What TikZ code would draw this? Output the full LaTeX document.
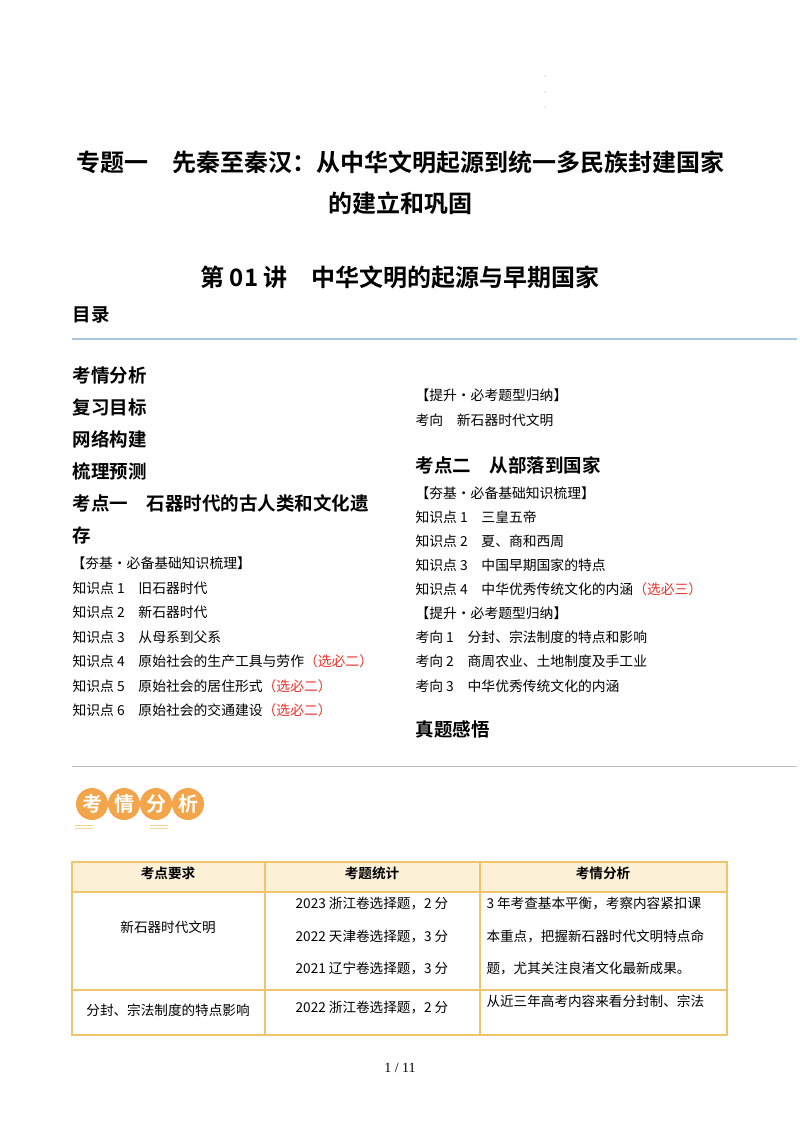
\documentclass[tikz,border=0pt]{standalone}
\usepackage{fontspec}
\setmainfont{Liberation Serif}
\newfontfamily\cjk{Noto Sans CJK SC}
\newfontfamily\cjkb{Noto Sans CJK SC Bold}
\definecolor{gold}{HTML}{EFC46A}
\definecolor{beige}{HTML}{FCF0D6}
\definecolor{orng}{HTML}{F2A54A}
\definecolor{redt}{HTML}{E8322B}
\definecolor{lblue}{HTML}{A9C6E3}
\begin{document}
\begin{tikzpicture}[x=1pt,y=-1pt,
  ttl/.style={font=\cjkb\fontsize{24}{26}\selectfont},
  sec/.style={anchor=west,font=\cjkb\fontsize{18.5}{20}\selectfont},
  itm/.style={anchor=west,font=\cjk\fontsize{13.8}{15}\selectfont},
  cell/.style={font=\cjk\fontsize{13.6}{15}\selectfont},
  hcell/.style={font=\cjkb\fontsize{13.6}{15}\selectfont},
  badge/.style={circle,fill=orng,minimum size=32pt,inner sep=0pt,text=white,font=\cjkb\fontsize{20}{20}\selectfont}]
\useasboundingbox (0,0) rectangle (800,1132);
\fill[gray!60] (545,76) circle (0.6) (545,92) circle (0.6) (545,107) circle (0.6);
\node[ttl] (t1) at (400,162) {专题一\quad 先秦至秦汉：从中华文明起源到统一多民族封建国家};
\node[ttl] (t2) at (400,203) {的建立和巩固};
\node[ttl] (t3) at (400,277) {第 01 讲\quad 中华文明的起源与早期国家};
\node[sec] (ml) at (69,315) {目录};
\draw[lblue,line width=1.2pt] (72,339) -- (797,339);
\node[sec] (l1) at (69,375) {考情分析};
\node[sec] (l2) at (69,407) {复习目标};
\node[sec] (l3) at (69,439) {网络构建};
\node[sec] (l4) at (69,471) {梳理预测};
\node[sec] (l5) at (69,503) {考点一\quad 石器时代的古人类和文化遗};
\node[sec] (l6) at (69,535) {存};
\node[itm] (l7) at (68,563) {【夯基·必备基础知识梳理】};
\node[itm] (k1) at (69,588) {知识点 1\quad 旧石器时代};
\node[itm] (k2) at (69,612) {知识点 2\quad 新石器时代};
\node[itm] (k3) at (69,637) {知识点 3\quad 从母系到父系};
\node[itm] (k4) at (69,661) {知识点 4\quad 原始社会的生产工具与劳作\textcolor{redt}{（选必二）}};
\node[itm] (k5) at (69,686) {知识点 5\quad 原始社会的居住形式\textcolor{redt}{（选必二）}};
\node[itm] (k6) at (69,710) {知识点 6\quad 原始社会的交通建设\textcolor{redt}{（选必二）}};
\node[itm] (r1) at (412,395) {【提升·必考题型归纳】};
\node[itm] (r2) at (412,420) {考向\quad 新石器时代文明};
\node[sec] (r3) at (412,465) {考点二\quad 从部落到国家};
\node[itm] (r4) at (412,493) {【夯基·必备基础知识梳理】};
\node[itm] (r5) at (412,517) {知识点 1\quad 三皇五帝};
\node[itm] (r6) at (412,541) {知识点 2\quad 夏、商和西周};
\node[itm] (r7) at (412,565) {知识点 3\quad 中国早期国家的特点};
\node[itm] (r8) at (412,589) {知识点 4\quad 中华优秀传统文化的内涵\textcolor{redt}{（选必三）}};
\node[itm] (r9) at (412,613) {【提升·必考题型归纳】};
\node[itm] (r10) at (412,637) {考向 1\quad 分封、宗法制度的特点和影响};
\node[itm] (r11) at (412,661) {考向 2\quad 商周农业、土地制度及手工业};
\node[itm] (r12) at (412,686) {考向 3\quad 中华优秀传统文化的内涵};
\node[sec] (r13) at (412,729) {真题感悟};
\draw[gray!50,line width=0.8pt] (72,766) -- (797,766);
% badge
\node[badge] (b1) at (92,804) {考};
\node[badge] (b2) at (124,804) {情};
\node[badge] (b3) at (156,804) {分};
\node[badge] (b4) at (188,804) {析};
\draw[gold!70,line width=0.6pt] (75,825) -- (93,825) (75,828) -- (93,828) (150,825) -- (168,825) (150,828) -- (168,828);
% table
\fill[beige] (72,862) rectangle (727,892);
\draw[gold,line width=1.2pt] (72,862) rectangle (727,1035);
\draw[gold,line width=1.2pt] (72,892) -- (727,892) (72,990) -- (727,990) (265,862) -- (265,1035) (480,862) -- (480,1035);
\node[hcell] (h1) at (168,873) {考点要求};
\node[hcell] (h2) at (372,873) {考题统计};
\node[hcell] (h3) at (603,873) {考情分析};
\node[cell] (c11) at (168,927) {新石器时代文明};
\node[cell] (c12) at (372,903) {2023 浙江卷选择题，2 分};
\node[cell] (c13) at (372,936) {2022 天津卷选择题，3 分};
\node[cell] (c14) at (372,968) {2021 辽宁卷选择题，3 分};
\node[cell,anchor=west] (c15) at (483,903) {3 年考查基本平衡，考察内容紧扣课};
\node[cell,anchor=west] (c16) at (483,936) {本重点，把握新石器时代文明特点命};
\node[cell,anchor=west] (c17) at (483,968) {题，尤其关注良渚文化最新成果。};
\node[cell] (c21) at (168,1010) {分封、宗法制度的特点影响};
\node[cell] (c22) at (372,1007) {2022 浙江卷选择题，2 分};
\node[cell,anchor=west] (c23) at (483,1001) {从近三年高考内容来看分封制、宗法};
\node[font=\fontsize{14}{15}\selectfont] (pg) at (400,1068) {1 / 11};
\end{tikzpicture}
\end{document}
